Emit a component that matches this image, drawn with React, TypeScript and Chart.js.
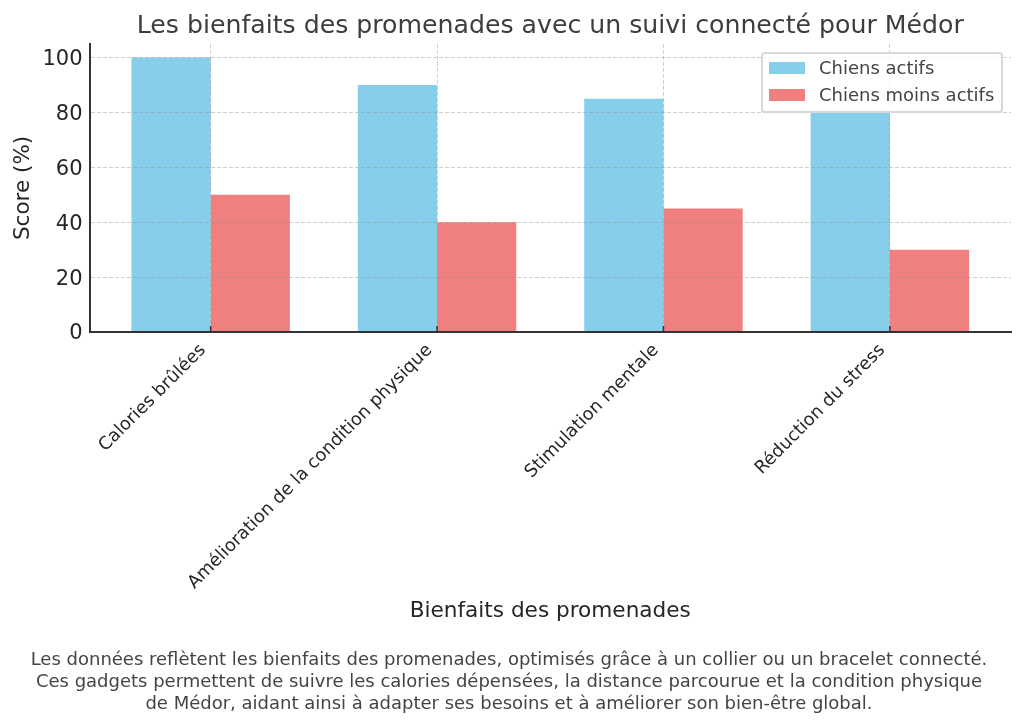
import { useEffect, useRef } from "react";
import { Chart, registerables } from "chart.js";

Chart.register(...registerables);

const TITLE = "Les bienfaits des promenades avec un suivi connecté pour Médor";
const X_TITLE = "Bienfaits des promenades";
const Y_TITLE = "Score (%)";
const CATEGORIES = [
  "Calories brûlées",
  "Amélioration de la condition physique",
  "Stimulation mentale",
  "Réduction du stress",
];
const ACTIVE_LABEL = "Chiens actifs";
const LESS_ACTIVE_LABEL = "Chiens moins actifs";
const ACTIVE = [100, 90, 85, 80];
const LESS_ACTIVE = [50, 40, 45, 30];
const CAPTION = [
  "Les données reflètent les bienfaits des promenades, optimisés grâce à un collier ou un bracelet connecté.",
  "Ces gadgets permettent de suivre les calories dépensées, la distance parcourue et la condition physique",
  "de Médor, aidant ainsi à adapter ses besoins et à améliorer son bien-être global.",
];

const BLUE = "#87CEEB";
const CORAL = "#F08080";
const FONT = "'DejaVu Sans'";
const GRID = "rgba(140,140,140,0.42)";

// short inward ticks, matplotlib style
const inwardTicks = {
  id: "inwardTicks",
  afterDraw(chart: Chart) {
    const { ctx, chartArea, scales } = chart;
    ctx.save();
    ctx.strokeStyle = "#333";
    ctx.lineWidth = 1.5;
    ctx.beginPath();
    scales.x.ticks.forEach((t) => {
      const px = scales.x.getPixelForValue(t.value);
      ctx.moveTo(px, chartArea.bottom);
      ctx.lineTo(px, chartArea.bottom - 6);
    });
    ctx.stroke();
    ctx.restore();
  },
};

export default function App() {
  const canvasRef = useRef<HTMLCanvasElement>(null);

  useEffect(() => {
    if (!canvasRef.current) return;
    const chart = new Chart(canvasRef.current, {
      type: "bar",
      data: {
        datasets: [
          {
            label: ACTIVE_LABEL,
            data: ACTIVE.map((y, x) => ({ x, y })),
            backgroundColor: BLUE,
            borderWidth: 0,
          },
          {
            label: LESS_ACTIVE_LABEL,
            data: LESS_ACTIVE.map((y, x) => ({ x, y })),
            backgroundColor: CORAL,
            borderWidth: 0,
          },
        ],
      },
      options: {
        responsive: false,
        animation: false,
        devicePixelRatio: 1,
        categoryPercentage: 0.7,
        barPercentage: 1,
        layout: { padding: { left: 0, right: 13, top: 0, bottom: 102 } },
        plugins: {
          legend: { display: false },
          tooltip: { enabled: false },
          title: {
            display: true,
            text: TITLE,
            fullSize: false,
            color: "#3d3d3d",
            font: { family: FONT, size: 25.2, weight: "normal" },
            padding: { top: 11, bottom: 2.6 },
          },
        },
        scales: {
          x: {
            type: "linear",
            min: -0.535,
            max: 3.535,
            offset: false,
            afterBuildTicks: (s: any) => {
              s.ticks = CATEGORIES.map((_, i) => ({ value: i }));
            },
            afterFit: (s: any) => {
              s.height = 292;
            },
            // border above the grid layer, it needs the grid's computed position
            border: { display: true, color: "#333", width: 2, dash: [4, 2], z: 2 },
            grid: { color: GRID, z: 1, offset: false, drawTicks: false, tickLength: 0 },
            ticks: {
              autoSkip: false,
              minRotation: 45,
              maxRotation: 45,
              padding: 8,
              labelOffset: -7.5,
              color: "#262626",
              font: { family: FONT, size: 17.8 },
              callback: (v: any) => CATEGORIES[v],
            },
            title: {
              display: true,
              text: X_TITLE,
              color: "#262626",
              font: { family: FONT, size: 21.6 },
              padding: 0,
            },
          },
          y: {
            min: 0,
            max: 105,
            afterFit: (s: any) => {
              s.width = 89.5;
            },
            border: { display: true, color: "#333", width: 2, dash: [4, 2], z: 2 },
            grid: { color: GRID, z: 1, drawTicks: false, tickLength: 0 },
            ticks: {
              stepSize: 20,
              includeBounds: false,
              padding: 7,
              labelOffset: 2,
              color: "#262626",
              font: { family: FONT, size: 21 },
            },
            title: {
              display: true,
              text: Y_TITLE,
              color: "#262626",
              font: { family: FONT, size: 21.5 },
              padding: { top: 11, bottom: 0 },
            },
          },
        },
      },
      plugins: [inwardTicks],
    } as any);
    return () => chart.destroy();
  }, []);

  return (
    <div style={{ position: "relative", width: 1024, height: 726, background: "#fff", overflow: "hidden", fontFamily: FONT }}>
      <style>{"body{margin:0}"}</style>
      <canvas ref={canvasRef} width={1024} height={726} style={{ display: "block" }} />

      {/* Legend */}
      <div
        style={{
          position: "absolute", left: 761, top: 52, width: 242, height: 61, boxSizing: "border-box",
          border: "2px solid #d8d8d8", borderRadius: 4, background: "rgba(255,255,255,0.8)",
        }}
      />
      {[{ label: ACTIVE_LABEL, color: BLUE, top: 62 }, { label: LESS_ACTIVE_LABEL, color: CORAL, top: 89 }].map((it) => (
        <div key={it.label}>
          <div style={{ position: "absolute", left: 769, top: it.top, width: 36, height: 12, background: it.color }} />
          <div style={{ position: "absolute", left: 819, top: it.top - 6, lineHeight: "24px", fontSize: 18, color: "#444", whiteSpace: "nowrap" }}>
            {it.label}
          </div>
        </div>
      ))}

      {/* Caption */}
      <div style={{ position: "absolute", left: 0, width: 1018, top: 648, textAlign: "center", fontSize: 18, lineHeight: "22px", color: "#444", whiteSpace: "nowrap" }}>
        {CAPTION.map((line) => (
          <div key={line}>{line}</div>
        ))}
      </div>
    </div>
  );
}
